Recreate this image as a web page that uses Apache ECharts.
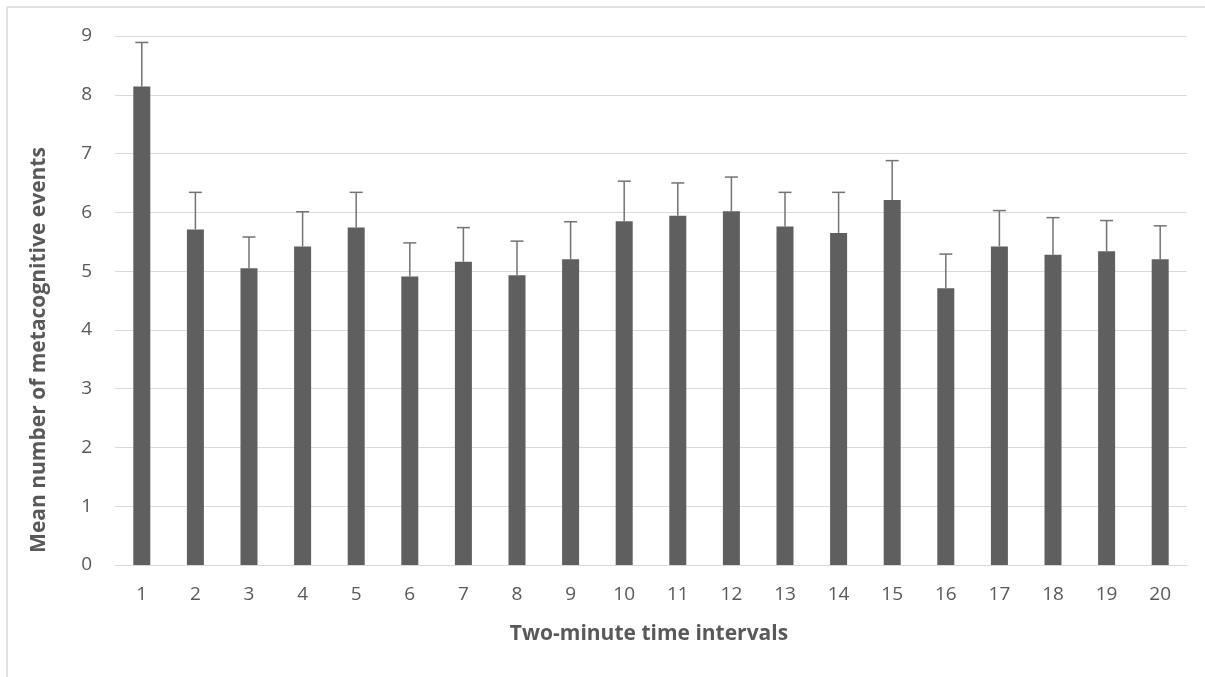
<!DOCTYPE html>
<html>
<head>
<meta charset="utf-8">
<script src="https://cdn.jsdelivr.net/npm/echarts@6/dist/echarts.min.js"></script>
<style>
html,body{margin:0;padding:0;background:#fff;}
#chart{width:1205px;height:677px;}
</style>
</head>
<body>
<div id="chart"></div>
<script>
const categories = ['1','2','3','4','5','6','7','8','9','10','11','12','13','14','15','16','17','18','19','20'];
const means = [8.14, 5.71, 5.05, 5.42, 5.74, 4.91, 5.16, 4.93, 5.20, 5.85, 5.94, 6.02, 5.76, 5.65, 6.21, 4.71, 5.42, 5.28, 5.34, 5.20];
const upperErrors = [0.75, 0.63, 0.53, 0.59, 0.60, 0.57, 0.58, 0.58, 0.64, 0.68, 0.56, 0.58, 0.58, 0.69, 0.67, 0.58, 0.61, 0.63, 0.52, 0.57];
const yTicks = [0, 1, 2, 3, 4, 5, 6, 7, 8, 9];
const xTitle = 'Two-minute time intervals';
const yTitle = 'Mean number of metacognitive events';

const FONT = '"Open Sans", sans-serif';
const chart = echarts.init(document.getElementById('chart'));

const errData = means.map((m, i) => [i, m, m + upperErrors[i]]);

chart.setOption({
  animation: false,
  backgroundColor: '#ffffff',
  grid: { left: 115, right: 18, top: 36, bottom: 112, containLabel: false },
  xAxis: {
    type: 'category',
    data: categories,
    axisLine: { show: true, lineStyle: { color: '#d9d9d9', width: 1 } },
    axisTick: { show: false },
    axisLabel: { color: '#595959', fontFamily: FONT, fontSize: 19, margin: 20 },
    splitLine: { show: false }
  },
  yAxis: {
    type: 'value',
    min: yTicks[0],
    max: yTicks[yTicks.length - 1],
    interval: 1,
    axisLine: { show: false },
    axisTick: { show: false },
    axisLabel: { color: '#595959', fontFamily: FONT, fontSize: 19, margin: 23 },
    splitLine: { show: true, lineStyle: { color: '#d9d9d9', width: 1 } }
  },
  graphic: [
    { type: 'line', shape: { x1: 7, y1: 7, x2: 1205, y2: 7 }, style: { stroke: '#d9d9d9', lineWidth: 1.5 } },
    { type: 'line', shape: { x1: 7, y1: 7, x2: 7, y2: 677 }, style: { stroke: '#d9d9d9', lineWidth: 1.5 } },
    {
      type: 'text', x: 649, y: 634,
      style: { text: xTitle, fill: '#595959', font: 'bold 21px ' + FONT, textAlign: 'center', textVerticalAlign: 'middle' }
    },
    {
      type: 'text', x: 39, y: 350, rotation: Math.PI / 2,
      style: { text: yTitle, fill: '#595959', font: 'bold 21px ' + FONT, textAlign: 'center', textVerticalAlign: 'middle' }
    }
  ],
  series: [
    {
      type: 'bar',
      data: means,
      barWidth: 17,
      itemStyle: { color: '#5f5f5f' },
      z: 2
    },
    {
      type: 'custom',
      data: errData,
      z: 3,
      renderItem: function (params, api) {
        const i = api.value(0);
        const base = api.coord([i, api.value(1)]);
        const top = api.coord([i, api.value(2)]);
        const hw = 6.5;
        return {
          type: 'group',
          children: [
            { type: 'line', shape: { x1: base[0], y1: base[1], x2: top[0], y2: top[1] }, style: { stroke: '#737373', lineWidth: 1.5 } },
            { type: 'line', shape: { x1: top[0] - hw, y1: top[1], x2: top[0] + hw, y2: top[1] }, style: { stroke: '#737373', lineWidth: 1.5 } }
          ]
        };
      }
    }
  ]
});
</script>
</body>
</html>
